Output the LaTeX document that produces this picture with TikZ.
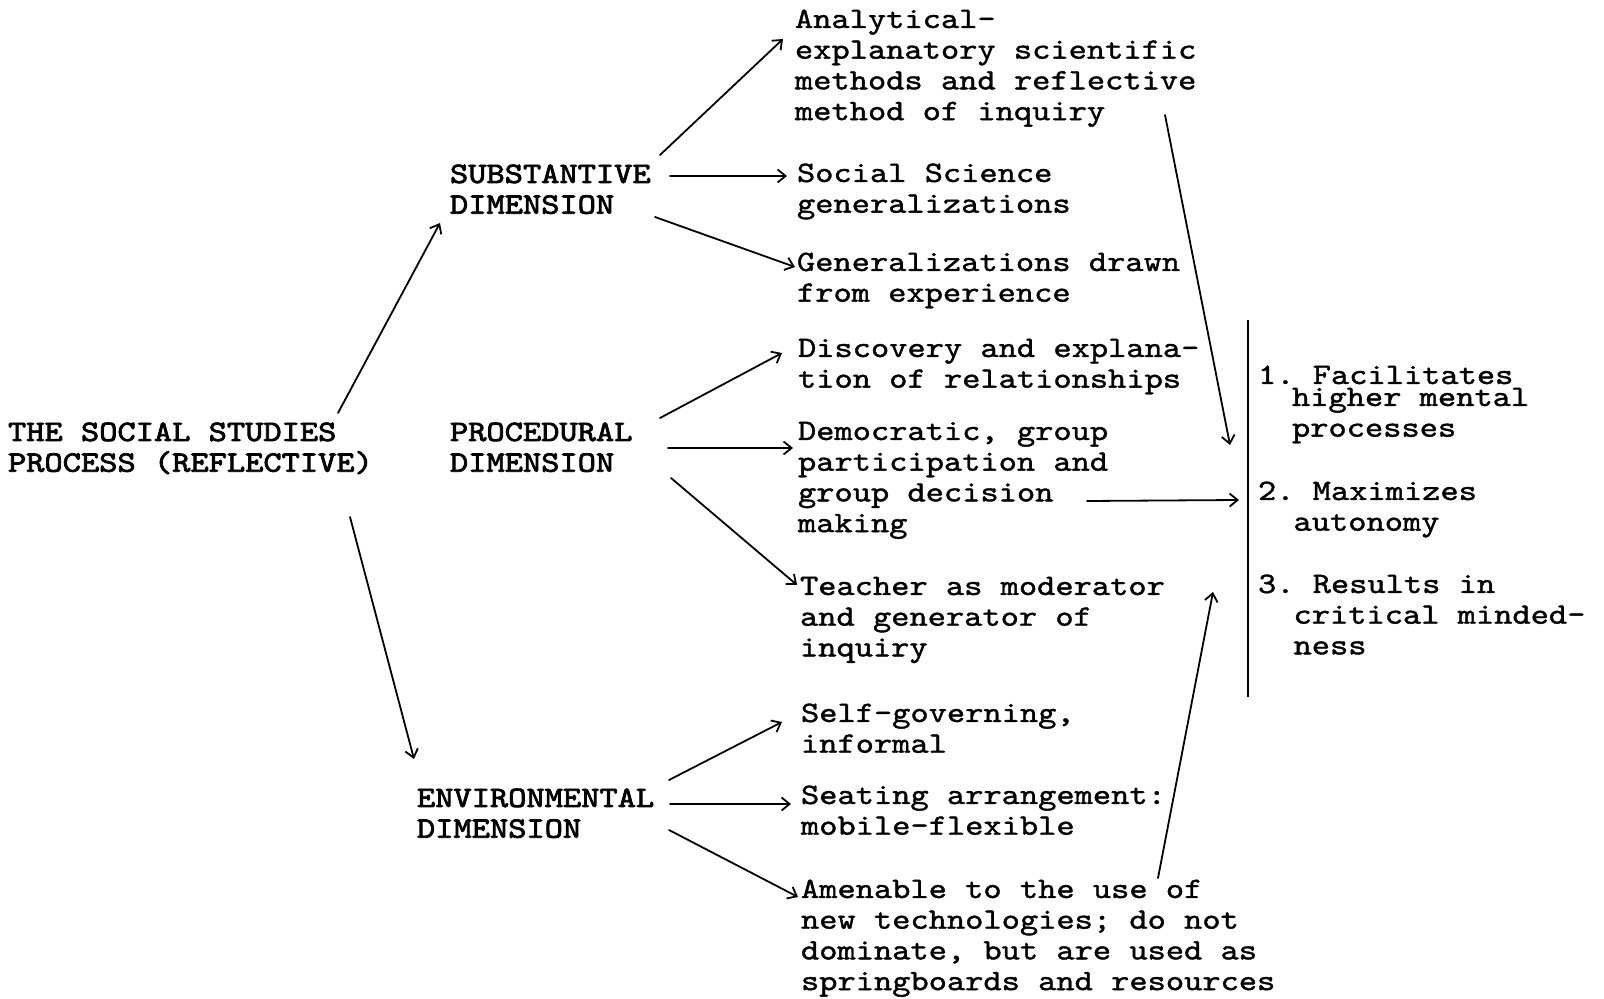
\documentclass[tikz,border=0pt]{standalone}
\usepackage{fontspec}
\usetikzlibrary{arrows.meta,calc}
% typewriter faces: body text and the heavier capitals of the headings
\newfontfamily\twfont{lmmono10-regular.otf}[FakeBold=1.3, FakeStretch=1.174]
\newfontfamily\twcaps{lmmono10-regular.otf}[FakeBold=2.6, FakeStretch=1.174]
\newcommand\twsize{\fontsize{14.8pt}{15.35pt}\selectfont\frenchspacing}
\tikzset{
  txt/.style={anchor=north west, inner sep=0pt, outer sep=0pt, align=left, font=\twfont\twsize},
  captxt/.style={txt, font=\twcaps\twsize},
  conn/.style={line width=0.9pt, line cap=round,
    -{Straight Barb[length=4pt,width=6.5pt,line width=0.9pt]}},
  barline/.style={line width=1pt}
}
\begin{document}
\begin{tikzpicture}[x=0.5pt,y=-0.5pt]
\path[use as bounding box] (0,0) rectangle (1604,999);

% root and the three dimensions
\node[captxt] (title) at (8,419.5) {\strut THE SOCIAL STUDIES\\PROCESS (REFLECTIVE)};
\node[captxt] (sub)   at (450,161.5) {\strut SUBSTANTIVE\\DIMENSION};
\node[captxt] (proc)  at (450,419.5) {\strut PROCEDURAL\\DIMENSION};
\node[captxt] (env)   at (417,785.5) {\strut ENVIRONMENTAL\\DIMENSION};

% substantive items
\node[txt] (a1) at (795,6.5)   {\strut Analytical-\\explanatory scientific\\methods and reflective\\method of inquiry};
\node[txt] (a2) at (797,160.5) {\strut Social Science\\generalizations};
\node[txt] (a3) at (797,249.5) {\strut Generalizations drawn\\from experience};

% procedural items
\node[txt] (b1) at (798,335.5) {\strut Discovery and explana-\\tion of relationships};
\node[txt] (b2) at (798,418.5) {\strut Democratic, group\\participation and\\group decision\\making};
\node[txt] (b3) at (800,573.5) {\strut Teacher as moderator\\and generator of\\inquiry};

% environmental items
\node[txt] (c1) at (801,700.5) {\strut Self-governing,\\informal};
\node[txt] (c2) at (801,782.5) {\strut Seating arrangement:\\mobile-flexible};
\node[txt] (c3) at (801,876.5) {\strut Amenable to the use of\\new technologies; do not\\dominate, but are used as\\springboards and resources};

% outcomes
\node[txt] (r1a) at (1258,362.5) {\strut 1. Facilitates};
\node[txt] (r1b) at (1292,384.5) {\strut higher mental\\processes};
\node[txt] (r2)  at (1258,478.5) {\strut 2. Maximizes\\\hspace*{1.2em}autonomy};
\node[txt] (r3)  at (1258,571.5) {\strut 3. Results in\\\hspace*{1.2em}critical minded-\\\hspace*{1.2em}ness};

% bar in front of the outcomes
\coordinate (bartop) at (1248,320);
\coordinate (barbot) at (1248,697);
\draw[barline] (bartop) -- (barbot);

% root to dimensions
\draw[conn] ($(title.north west)+(330,-6.5)$) -- ($(sub.north west)+(-10,61.5)$);
\draw[conn] ($(title.north west)+(342,97.5)$) -- ($(env.north west)+(-3,-26.5)$);

% substantive branches
\draw[conn] ($(sub.north west)+(210,-6.5)$) -- ($(a1.north west)+(-12,32.5)$);
\draw[conn] ($(sub.north west)+(220,14.5)$) -- ($(a2.north west)+(-10,15.5)$);
\draw[conn] ($(sub.north west)+(205,55.5)$) -- ($(a3.north west)+(-2,17.5)$);

% procedural branches
\draw[conn] ($(proc.north west)+(210,-1.5)$) -- ($(b1.north west)+(-16,17.5)$);
\draw[conn] ($(proc.north west)+(218,28.5)$) -- ($(b2.north west)+(-5,29.5)$);
\draw[conn] ($(proc.north west)+(221,58.5)$) -- ($(b3.north west)+(-3,11.5)$);

% environmental branches
\draw[conn] ($(env.north west)+(252,-5.5)$) -- ($(c1.north west)+(-19,21.5)$);
\draw[conn] ($(env.north west)+(253,18.5)$) -- ($(c2.north west)+(-10,21.5)$);
\draw[conn] ($(env.north west)+(252,44.5)$) -- ($(c3.north west)+(-3,20.5)$);

% links into the outcomes
\draw[conn] ($(a1.north west)+(370,108.5)$) -- ($(bartop)+(-18,125)$);
\draw[conn] ($(b2.north west)+(289,82.5)$) -- ($(bartop)+(-9,180)$);
\draw[conn] ($(c3.north west)+(357,1.5)$) -- ($(bartop)+(-35,272)$);
\end{tikzpicture}
\end{document}
